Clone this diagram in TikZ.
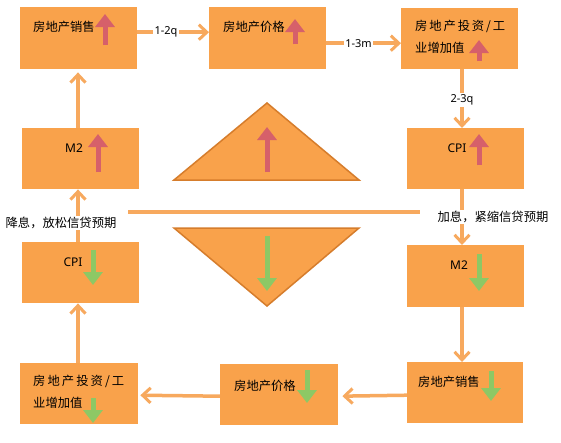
\documentclass[tikz,border=0pt]{standalone}
\usepackage{fontspec}
\setmainfont{Noto Sans}
\newfontfamily\cjk{Noto Sans CJK SC}
\usetikzlibrary{arrows.meta}
\definecolor{boxor}{HTML}{F9A24B}
\definecolor{connor}{HTML}{F7A95E}
\definecolor{triedge}{HTML}{D67D2C}
\definecolor{redar}{HTML}{D6606A}
\definecolor{greenar}{HTML}{8DC865}
\tikzset{
  box/.style={fill=boxor, draw=none, inner sep=0pt, anchor=north west},
  conn/.style={draw=connor, line width=3.5pt, -{Straight Barb[length=8pt,width=15pt,line width=3pt]}},
  divline/.style={draw=connor, line width=4pt},
  tri/.style={fill=boxor, draw=triedge, line width=1.5pt, line join=miter},
  uparr/.style={draw=redar, line width=5pt, -{Triangle[length=13pt,width=19pt]}},
  downarr/.style={draw=greenar, line width=5pt, -{Triangle[length=13pt,width=19pt]}},
  cjktxt/.style={font=\cjk\fontsize{12.3}{22}\selectfont, inner sep=0pt, anchor=west, align=left},
  lattxt/.style={font=\fontsize{12}{14}\selectfont\bfseries, inner sep=0pt},
  elab/.style={font=\fontsize{11}{12}\selectfont, fill=white, inner sep=1.5pt},
  sidelab/.style={font=\cjk\fontsize{12.3}{14}\selectfont, fill=white, inner sep=1.5pt}
}
\begin{document}
\begin{tikzpicture}[x=1pt,y=-1pt]
\useasboundingbox (0,0) rectangle (561,442);
\fill[white] (0,0) rectangle (561,442);

% boxes
\node[box, minimum width=117pt, minimum height=62pt] (s1) at (20,7) {};
\node[box, minimum width=117pt, minimum height=62pt] (p1) at (209,7) {};
\node[box, minimum width=117pt, minimum height=61pt] (i1) at (401,8) {};
\node[box, minimum width=117pt, minimum height=61pt] (m2l) at (22,128) {};
\node[box, minimum width=117pt, minimum height=61pt] (c1) at (407,128) {};
\node[box, minimum width=117pt, minimum height=61pt] (c2) at (22,242) {};
\node[box, minimum width=117pt, minimum height=62pt] (m2r) at (407,245) {};
\node[box, minimum width=118pt, minimum height=61pt] (i2) at (20,363) {};
\node[box, minimum width=118pt, minimum height=61pt] (p2) at (220,364) {};
\node[box, minimum width=116pt, minimum height=61pt] (s2) at (407,362) {};

% column coordinates
\coordinate (lx) at (78,0);
\coordinate (rx) at (462,0);

% triangles
\coordinate (tu1) at (174,180);
\coordinate (tu2) at (359,180);
\coordinate (tu3) at (267,103);
\coordinate (td1) at (174,228);
\coordinate (td2) at (359,228);
\coordinate (td3) at (267,306);
\draw[tri] (tu1) -- (tu2) -- (tu3) -- cycle;
\draw[tri] (td1) -- (td2) -- (td3) -- cycle;

% divider
\coordinate (d1) at (128,212);
\coordinate (d2) at (420,212);
\draw[divline] (d1) -- (d2);

% connectors
\draw[conn] ([yshift=6pt]s1.east) -- node[elab, pos=0.4] (l12q) {1-2q} ([yshift=6pt]p1.west);
\draw[conn] ([yshift=-5pt]p1.east) -- node[elab, pos=0.43] (l13m) {1-3m} ([yshift=-4.5pt]i1.west);
\draw[conn] (i1.south -| rx) -- node[elab, pos=0.52] (l23q) {2-3q} (c1.north -| rx);
\draw[conn] (c1.south -| rx) -- (m2r.north -| rx);
\draw[conn] (m2r.south -| rx) -- (s2.north -| rx);
\draw[conn, shorten >=4pt] ([yshift=-2.5pt]s2.west) -- ([yshift=-1.5pt]p2.east);
\draw[conn, shorten >=2pt] ([yshift=-1.5pt]p2.west) -- ([yshift=-1.5pt]i2.east);
\draw[conn] (i2.north -| lx) -- (c2.south -| lx);
\draw[conn] (c2.north -| lx) -- (m2l.south -| lx);
\draw[conn, shorten >=3pt] (m2l.north -| lx) -- (s1.south -| lx);

\node[sidelab] (lowlab) at (61,223) {降息，放松信贷预期};
\node[sidelab] (highlab) at (493,217) {加息，紧缩信贷预期};

% box texts
\node[cjktxt] (ts1) at (33,27) {房地产销售};
\node[cjktxt] (tp1) at (223,27) {房地产价格};
\node[cjktxt, anchor=north west] (ti1) at (415,20) {\makebox[90pt][s]{房 地 产 投 资 / 工}\\业增加值};
\node[lattxt] (tm2l) at (74,148) {M2};
\node[lattxt] (tc1) at (457,148) {CPI};
\node[lattxt] (tc2) at (73,262) {CPI};
\node[lattxt] (tm2r) at (459,265) {M2};
\node[cjktxt, anchor=north west] (ti2) at (33,375) {\makebox[91pt][s]{房 地 产 投 资 / 工}\\业增加值};
\node[cjktxt] (tp2) at (234,386) {房地产价格};
\node[cjktxt] (ts2) at (418,382) {房地产销售};

% trend arrows
\draw[uparr] (105,45) -- (105,14);
\draw[uparr] (295,44) -- (295,19);
\draw[uparr] (479,61) -- (479,40);
\draw[uparr] (98,172) -- (98,134);
\draw[uparr] (267,172) -- (267,127);
\draw[uparr] (479,165) -- (479,134);
\draw[downarr] (93,250) -- (93,285);
\draw[downarr] (267,236) -- (267,291);
\draw[downarr] (479,254) -- (479,291);
\draw[downarr] (93,398) -- (93,423);
\draw[downarr] (307,370) -- (307,403);
\draw[downarr] (491,371) -- (491,401);
\end{tikzpicture}
\end{document}
